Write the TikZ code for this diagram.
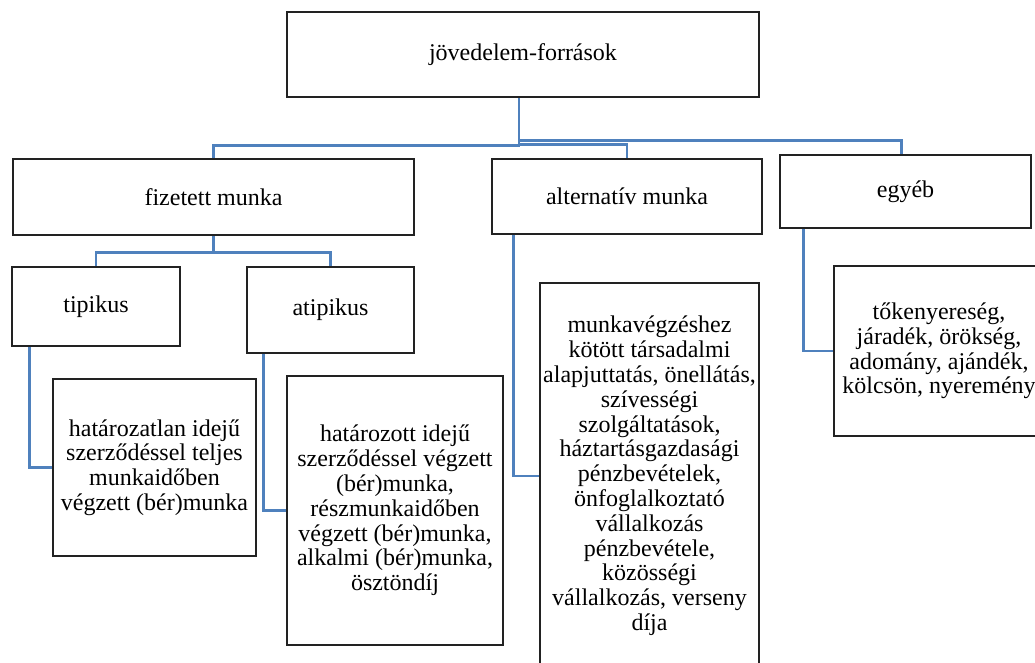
\documentclass[tikz,border=0pt]{standalone}
\usepackage{fontspec}
\setmainfont{Liberation Serif}
\usepackage{xcolor}
\definecolor{linkblue}{RGB}{79,129,189}
\definecolor{boxline}{RGB}{34,34,34}

\begin{document}
\begin{tikzpicture}[x=1pt, y=-1pt]
    \tikzset{box/.style = {shape=rectangle, draw=boxline, line width=2.8pt, fill=white, align=center, inner sep=0pt, font=\fontsize{24}{24.8}\selectfont}}
    \tikzset{link/.style = {draw=linkblue, line width=2.8pt, -}}

    \useasboundingbox (0,0) rectangle (1035,663);
    \clip (0,0) rectangle (1035,663);

    % boxes
    \node[box, minimum width=472, minimum height=85] (root) at (523,54.5) {jövedelem-források};
    \node[box, minimum width=401, minimum height=76] (paid) at (213.5,197) {fizetett munka};
    \node[box, minimum width=270, minimum height=75] (alt) at (627,196.5) {alternatív munka};
    \node[box, minimum width=251, minimum height=73] (other) at (905.5,191.5) {egyéb};
    \node[box, minimum width=168, minimum height=79] (tip) at (96,306.5) {tipikus};
    \node[box, minimum width=167, minimum height=86] (atip) at (330.5,310) {atipikus};
    \node[box, minimum width=203, minimum height=177] (indef) at (154.5,467.5)
        {határozatlan idejű\\szerződéssel teljes\\munkaidőben\\végzett (bér)munka};
    \node[box, minimum width=216, minimum height=269] (fixed) at (395,510.5)
        {határozott idejű\\szerződéssel végzett\\(bér)munka,\\részmunkaidőben\\végzett (bér)munka,\\alkalmi (bér)munka,\\ösztöndíj};
    \node[box, minimum width=219, minimum height=386] (altlist) at (649.5,476)
        {munkavégzéshez\\kötött társadalmi\\alapjuttatás, önellátás,\\szívességi\\szolgáltatások,\\háztartásgazdasági\\pénzbevételek,\\önfoglalkoztató\\vállalkozás\\pénzbevétele,\\közösségi\\vállalkozás, verseny\\díja};
    \node[box, minimum width=210, minimum height=170] (misc) at (939,351)
        {tőkenyereség,\\járadék, örökség,\\adomány, ajándék,\\kölcsön, nyeremény};

    % links
    \draw[link] ([xshift=-4]root.south) -- ++(0,47) -| (paid.north);
    \draw[link] ([xshift=-4]root.south) -- ++(0,46) -| (alt.north);
    \draw[link] ([xshift=-4]root.south) -- ++(0,42) -| ([xshift=-4]other.north);
    \draw[link] (paid.south) -- ++(0,16) -| (tip.north);
    \draw[link] (paid.south) -- ++(0,16) -| (atip.north);
    \draw[link] ([xshift=19]tip.south west) |- (indef.west);
    \draw[link] ([xshift=18]atip.south west) |- (fixed.west);
    \draw[link] ([xshift=23]alt.south west) |- (altlist.west);
    \draw[link] ([xshift=25]other.south west) |- (misc.west);
\end{tikzpicture}
\end{document}
